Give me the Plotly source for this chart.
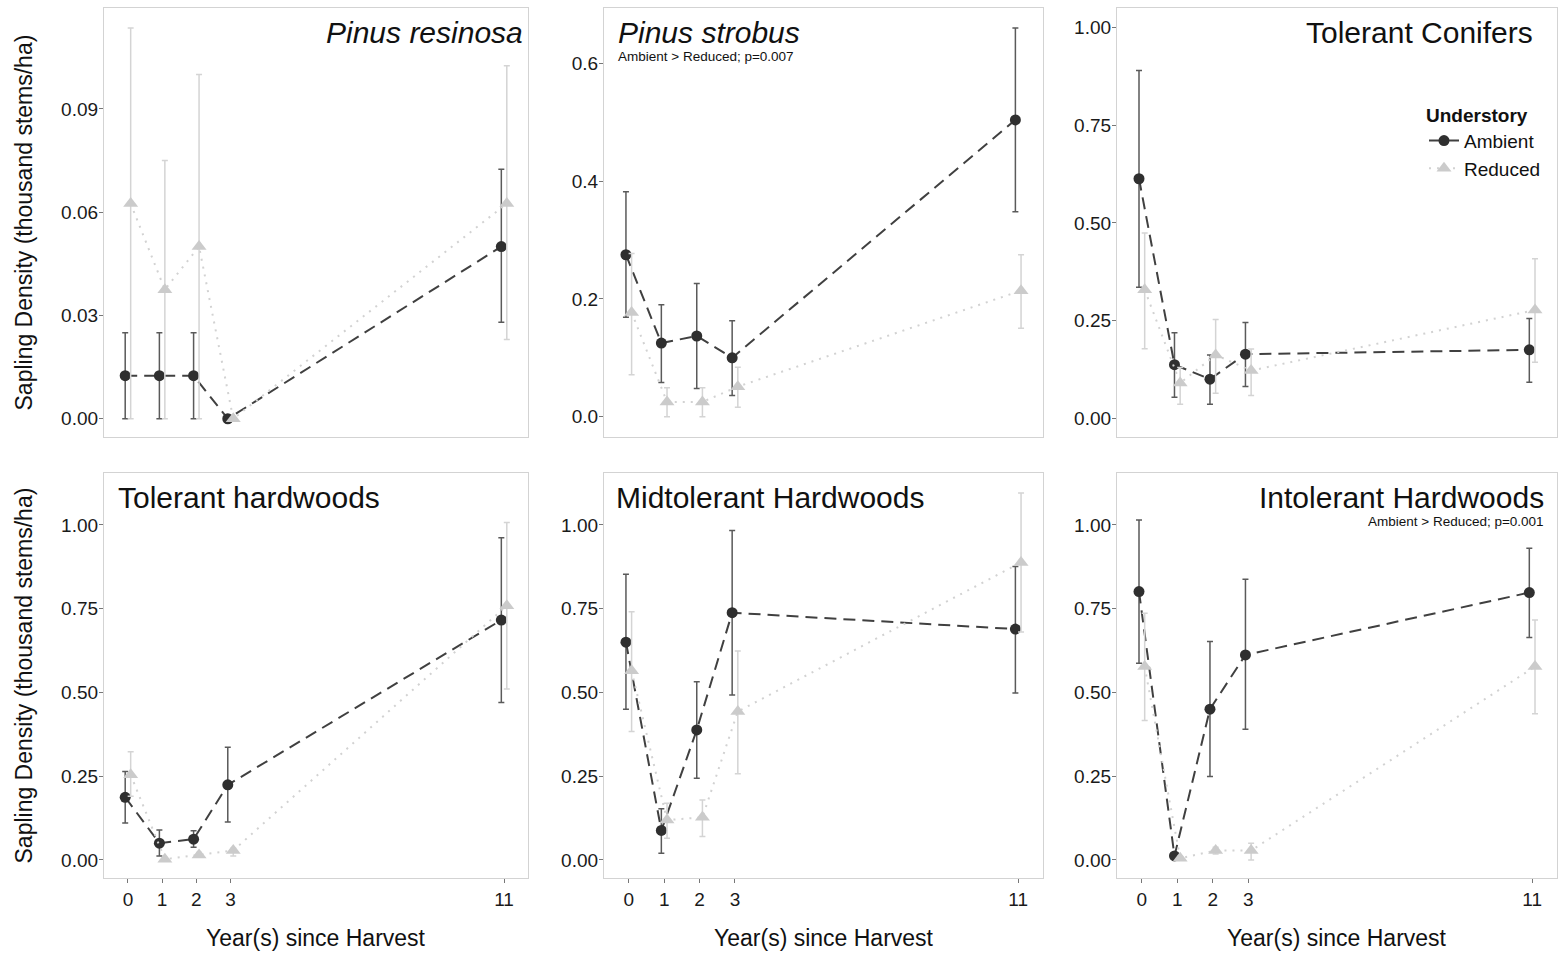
import plotly.graph_objects as go

W, H = 1558, 954

YEARS = [0, 1, 2, 3, 11]
TITLES = ["Pinus resinosa", "Pinus strobus", "Tolerant Conifers",
          "Tolerant hardwoods", "Midtolerant Hardwoods", "Intolerant Hardwoods"]
NOTES = ["", "Ambient > Reduced; p=0.007", "", "", "", "Ambient > Reduced; p=0.001"]

# Pinus resinosa
PR_AMB = [0.0125, 0.0125, 0.0125, 0.0, 0.05]
PR_AMB_LO = [0.0, 0.0, 0.0, 0.0, 0.028]
PR_AMB_HI = [0.025, 0.025, 0.025, 0.0, 0.0725]
PR_RED = [0.0625, 0.0375, 0.05, 0.0, 0.0625]
PR_RED_LO = [0.0, 0.0, 0.0, 0.0, 0.023]
PR_RED_HI = [0.1135, 0.075, 0.1, 0.0, 0.1025]

# Pinus strobus
PS_AMB = [0.275, 0.125, 0.137, 0.10, 0.504]
PS_AMB_LO = [0.169, 0.058, 0.048, 0.036, 0.348]
PS_AMB_HI = [0.382, 0.19, 0.226, 0.163, 0.66]
PS_RED = [0.177, 0.025, 0.025, 0.051, 0.214]
PS_RED_LO = [0.071, 0.0, 0.0, 0.016, 0.15]
PS_RED_HI = [0.277, 0.049, 0.049, 0.084, 0.275]

# Tolerant Conifers
TC_AMB = [0.613, 0.137, 0.10, 0.164, 0.175]
TC_AMB_LO = [0.335, 0.054, 0.036, 0.081, 0.092]
TC_AMB_HI = [0.89, 0.219, 0.162, 0.245, 0.255]
TC_RED = [0.329, 0.09, 0.162, 0.122, 0.277]
TC_RED_LO = [0.178, 0.036, 0.064, 0.058, 0.143]
TC_RED_HI = [0.474, 0.13, 0.253, 0.177, 0.408]

# Tolerant hardwoods
TH_AMB = [0.187, 0.05, 0.062, 0.224, 0.716]
TH_AMB_LO = [0.11, 0.012, 0.038, 0.113, 0.47]
TH_AMB_HI = [0.264, 0.089, 0.087, 0.336, 0.962]
TH_RED = [0.254, 0.002, 0.015, 0.028, 0.759]
TH_RED_LO = [0.19, 0.0, 0.008, 0.012, 0.51]
TH_RED_HI = [0.323, 0.004, 0.022, 0.035, 1.007]

# Midtolerant Hardwoods
MH_AMB = [0.65, 0.088, 0.388, 0.738, 0.689]
MH_AMB_LO = [0.45, 0.02, 0.244, 0.492, 0.498]
MH_AMB_HI = [0.853, 0.153, 0.532, 0.983, 0.876]
MH_RED = [0.565, 0.119, 0.127, 0.443, 0.888]
MH_RED_LO = [0.383, 0.065, 0.07, 0.257, 0.68]
MH_RED_HI = [0.741, 0.169, 0.179, 0.624, 1.095]

# Intolerant Hardwoods
IH_AMB = [0.801, 0.012, 0.45, 0.612, 0.798]
IH_AMB_LO = [0.587, 0.012, 0.249, 0.39, 0.664]
IH_AMB_HI = [1.015, 0.012, 0.652, 0.838, 0.93]
IH_RED = [0.577, 0.005, 0.028, 0.028, 0.577]
IH_RED_LO = [0.416, 0.0, 0.018, 0.0, 0.436]
IH_RED_HI = [0.736, 0.01, 0.038, 0.05, 0.716]

Y_TICKS = [
    [0.0, 0.03, 0.06, 0.09],
    [0.0, 0.2, 0.4, 0.6],
    [0.0, 0.25, 0.5, 0.75, 1.0],
    [0.0, 0.25, 0.5, 0.75, 1.0],
    [0.0, 0.25, 0.5, 0.75, 1.0],
    [0.0, 0.25, 0.5, 0.75, 1.0],
]
Y_TICKTEXT = [
    ["0.00", "0.03", "0.06", "0.09"],
    ["0.0", "0.2", "0.4", "0.6"],
    ["0.00", "0.25", "0.50", "0.75", "1.00"],
    ["0.00", "0.25", "0.50", "0.75", "1.00"],
    ["0.00", "0.25", "0.50", "0.75", "1.00"],
    ["0.00", "0.25", "0.50", "0.75", "1.00"],
]
Y_RANGES = [[-0.0053, 0.1193], [-0.0345, 0.694], [-0.048, 1.05],
            [-0.054, 1.155], [-0.054, 1.155], [-0.054, 1.155]]
X_RANGE = [-0.7, 11.7]

PANELS = [
    (PR_AMB, PR_AMB_LO, PR_AMB_HI, PR_RED, PR_RED_LO, PR_RED_HI),
    (PS_AMB, PS_AMB_LO, PS_AMB_HI, PS_RED, PS_RED_LO, PS_RED_HI),
    (TC_AMB, TC_AMB_LO, TC_AMB_HI, TC_RED, TC_RED_LO, TC_RED_HI),
    (TH_AMB, TH_AMB_LO, TH_AMB_HI, TH_RED, TH_RED_LO, TH_RED_HI),
    (MH_AMB, MH_AMB_LO, MH_AMB_HI, MH_RED, MH_RED_LO, MH_RED_HI),
    (IH_AMB, IH_AMB_LO, IH_AMB_HI, IH_RED, IH_RED_LO, IH_RED_HI),
]

# layout in pixels
COLS = [(104, 528), (604, 1043), (1117, 1557)]
ROWS = [(8, 437), (473, 878)]
DODGE = 0.08
FONT = "Liberation Sans, Arial, sans-serif"
AMB_COL = "#2f2f2f"
AMB_LINE = "#404040"
AMB_ERR = "#5a5a5a"
RED_COL = "#cbcbcb"
RED_LINE = "#d2d2d2"
RED_ERR = "#d4d4d4"
BORDER = "#d3d3d3"


def px_x(p):
    return p / W


def px_y(p):
    return 1 - p / H


fig = go.Figure()
layout = {}
annotations = []

for i, (amb, amb_lo, amb_hi, red, red_lo, red_hi) in enumerate(PANELS):
    r, c = divmod(i, 3)
    n = "" if i == 0 else str(i + 1)
    xa, ya = "x" + n, "y" + n
    x0, x1 = COLS[c]
    y0, y1 = ROWS[r]
    bottom = r == 1

    xs_a = [yr - DODGE for yr in YEARS]
    xs_r = [yr + DODGE for yr in YEARS]

    fig.add_trace(go.Scatter(
        x=xs_a, y=amb, xaxis=xa, yaxis=ya, mode="lines+markers",
        name="Ambient", legendgroup="amb", showlegend=(i == 0),
        line=dict(color=AMB_LINE, width=2, dash="12px,7px"),
        marker=dict(symbol="circle", size=11, color=AMB_COL),
        error_y=dict(type="data", symmetric=False,
                     array=[h - m for h, m in zip(amb_hi, amb)],
                     arrayminus=[m - l for m, l in zip(amb, amb_lo)],
                     color=AMB_ERR, thickness=1.5, width=3),
    ))
    fig.add_trace(go.Scatter(
        x=xs_r, y=red, xaxis=xa, yaxis=ya, mode="lines+markers",
        name="Reduced", legendgroup="red", showlegend=(i == 0),
        line=dict(color=RED_LINE, width=2, dash="2px,6px"),
        marker=dict(symbol="triangle-up", size=13, color=RED_COL),
        error_y=dict(type="data", symmetric=False,
                     array=[h - m for h, m in zip(red_hi, red)],
                     arrayminus=[m - l for m, l in zip(red, red_lo)],
                     color=RED_ERR, thickness=1.5, width=3),
    ))

    layout["xaxis" + n] = dict(
        domain=[px_x(x0), px_x(x1)], anchor=ya, range=X_RANGE,
        showgrid=False, zeroline=False, showline=True, mirror=True,
        linecolor=BORDER, linewidth=1.3,
        tickmode="array", tickvals=YEARS if bottom else [],
        ticktext=[str(v) for v in YEARS] if bottom else [],
        showticklabels=bottom, ticks="outside" if bottom else "",
        ticklen=4, tickcolor="#777777", tickwidth=1,
        tickfont=dict(family=FONT, size=19, color="#1a1a1a"),
        automargin=False,
    )
    layout["yaxis" + n] = dict(
        domain=[px_y(y1), px_y(y0)], anchor=xa, range=Y_RANGES[i],
        showgrid=False, zeroline=False, showline=True, mirror=True,
        linecolor=BORDER, linewidth=1.3,
        tickmode="array", tickvals=Y_TICKS[i], ticktext=Y_TICKTEXT[i],
        ticks="outside", ticklen=4, tickcolor="#777777", tickwidth=1,
        tickfont=dict(family=FONT, size=19, color="#1a1a1a"),
        ticklabelstandoff=-3,
        automargin=False,
    )

    # panel titles
    italic = i < 2
    title_txt = f"<i>{TITLES[i]}</i>" if italic else TITLES[i]
    right_aligned = i in (0, 2, 5)
    ty = y0 + 24
    if right_aligned:
        tx = x1 - (3 if i == 0 else 22 if i == 2 else 11)
        anchor = "right"
    else:
        tx = x0 + (12 if i in (1, 3) else 10)
        anchor = "left"
    annotations.append(dict(
        text=title_txt, x=px_x(tx), y=px_y(ty), xref="paper", yref="paper",
        xanchor=anchor, yanchor="middle", showarrow=False,
        font=dict(family=FONT, size=30, color="#111111"),
    ))
    if NOTES[i]:
        annotations.append(dict(
            text=NOTES[i], x=px_x(tx), y=px_y(y0 + 48), xref="paper", yref="paper",
            xanchor=anchor, yanchor="middle", showarrow=False,
            font=dict(family=FONT, size=13.5, color="#111111"),
        ))

    if c == 0:
        annotations.append(dict(
            text="Sapling Density (thousand stems/ha)", textangle=-90,
            x=px_x(23), y=px_y((y0 + y1) / 2), xref="paper", yref="paper",
            xanchor="center", yanchor="middle", showarrow=False,
            font=dict(family=FONT, size=23, color="#111111"),
        ))
    if bottom:
        annotations.append(dict(
            text="Year(s) since Harvest",
            x=px_x((x0 + x1) / 2), y=px_y(938), xref="paper", yref="paper",
            xanchor="center", yanchor="middle", showarrow=False,
            font=dict(family=FONT, size=23, color="#111111"),
        ))

fig.update_layout(
    width=W, height=H,
    margin=dict(l=0, r=0, t=0, b=0),
    paper_bgcolor="white", plot_bgcolor="white",
    annotations=annotations,
    legend=dict(
        title=dict(text="<b>Understory</b>", font=dict(family=FONT, size=19, color="#111111")),
        font=dict(family=FONT, size=19, color="#111111"),
        x=px_x(1546), y=px_y(97), xanchor="right", yanchor="top",
        bgcolor="rgba(0,0,0,0)", borderwidth=0, tracegroupgap=0,
        itemwidth=30,
    ),
    showlegend=True,
    **layout,
)

fig.write_html("out.html")
